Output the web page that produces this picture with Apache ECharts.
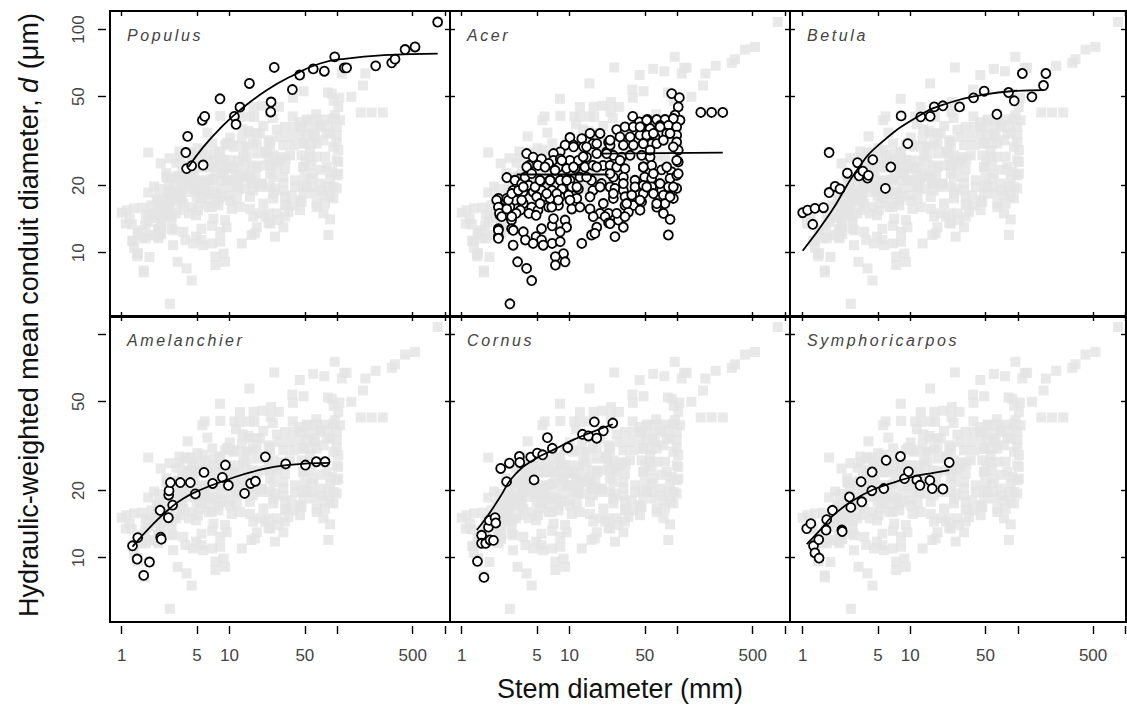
<!DOCTYPE html>
<html><head><meta charset="utf-8">
<script src="https://cdn.jsdelivr.net/npm/echarts@6/dist/echarts.min.js"></script>
<style>
html,body{margin:0;padding:0;background:#fff}
#c{width:1127px;height:706px}
#c text[style*="italic"]{letter-spacing:2.6px}
</style>
</head><body><div id="c"></div><script>
// ---- tick marks / labels ----
const xTicks = [1, 5, 10, 50, 100, 500, 1000];
const xTickLabels = [1, 5, 10, 50, 500];
const yTicks = [10, 20, 50, 100];
const yTickLabelsTop = [10, 20, 50, 100];
const yTickLabelsBottom = [10, 20, 50];
const speciesNames = ['Populus', 'Acer', 'Betula', 'Amelanchier', 'Cornus', 'Symphoricarpos'];

// ---- data: [stem diameter (mm), conduit diameter (um)] ----
const populusPts = [[3.93,28.1],[4.09,33.2],[4.0,23.8],[4.46,24.5],[5.7,24.7],[5.6,39.2],[5.89,40.8],[8.16,48.9],[11.1,40.8],[11.5,37.6],[12.5,44.9],[15.3,57.3],[24.3,47.3],[24.1,42.7],[26.0,67.6],[38.3,53.8],[44.8,62.5],[59.8,66.6],[75.8,65.0],[94.6,75.4],[116,67.3],[122,67.3],[227,68.7],[320,70.9],[343,73.6],[425,81.3],[526,83.5],[853,108]];
const populusFit = [[4.15,24.2],[5.73,29.8],[8.17,36.0],[12.5,43.5],[22.1,53.4],[39.1,62.4],[69.2,70.4],[122,74.1],[267,76.7],[853,78.0]];

const acerPts = [[10.1,32.8],[13.0,32.4],[15.5,34.2],[19.2,34.2],[23.0,31.3],[16.5,30.8],[13.5,29.8],[10.9,30.3],[9.1,30.3],[8.2,28.3],[7.1,27.8],
[4.0,27.8],[4.6,26.8],[5.5,26.3],[7.1,25.9],[8.2,26.3],[10.1,25.9],[12.1,25.9],[14.4,26.8],[17.9,27.8],[22.1,28.3],
[4.2,24.6],[5.1,24.6],[6.4,25.1],[7.9,24.2],[9.4,23.8],[11.3,23.8],[13.9,24.2],[16.5,24.6],[20.5,24.6],[25.6,25.1],
[2.62,21.7],[3.12,21.1],[3.6,20.4],[4.2,20.0],[5.33,20.8],[6.6,21.1],[8.2,21.1],[10.1,21.1],[12.5,21.8],[16.0,21.1],[19.8,20.4],[23.8,19.7],
[3.0,19.0],[3.7,18.7],[4.6,18.7],[5.5,19.0],[6.9,19.0],[8.5,19.3],[10.5,19.7],[12.1,19.3],[16.5,19.0],
[2.19,17.5],[2.62,17.5],[3.12,17.2],[3.73,16.6],[4.46,16.0],[5.5,17.5],[6.6,17.5],[8.2,17.8],[9.8,18.1],[11.7,17.5],
[2.27,16.0],[2.8,16.0],[3.5,15.5],[4.2,15.0],[5.1,15.5],[6.4,16.0],[7.9,16.3],[10.5,15.7],
[2.27,14.7],[2.7,14.7],[3.2,15.0],[4.9,14.7],[15.5,15.7],[19.2,15.0],[23.0,15.0],
[2.19,12.8],[2.19,11.8],[2.9,14.0],[2.9,12.8],[3.73,12.4],[3.9,11.4],[4.9,11.8],[5.5,12.8],[6.9,13.2],[7.1,14.2],[9.1,14.0],[9.4,13.0],[8.2,12.4],[5.5,11.4],[6.9,11.0],[8.2,11.2],[13.0,11.0],[16.0,12.0],[17.9,13.0],[21.4,14.5],[23.0,13.6],[17.2,12.2],
[3.0,10.8],[4.6,11.0],[5.7,10.8],[8.8,9.9],[9.1,9.1],[7.4,9.6],[7.4,8.8],[3.3,9.1],[4.0,8.5],[4.46,7.5],[2.8,5.9],
[88.7,51.6],[104.5,49.5],[102,45.0],[95.2,41.3],[106,39.2],[38.6,40.8],[44.5,38.5],[52.8,39.5],[64.4,39.5],[76.9,39.5],[91.9,39.9],
[27.4,35.6],[32.7,36.6],[39.1,36.6],[46.7,36.6],[55.9,36.0],[69.2,37.2],[82.6,37.2],[98.7,36.6],
[29.4,33.0],[36.5,33.0],[45.1,33.6],[52.0,33.6],[62.1,33.0],[79.8,34.2],[98.7,33.6],
[23.8,30.3],[31.6,30.3],[39.1,30.3],[48.4,30.8],[57.8,30.8],[98.7,31.3],[102,28.8],
[25.5,27.3],[30.5,26.8],[36.5,27.3],[46.7,27.3],[55.9,26.8],
[23.8,24.6],[27.4,24.2],[32.7,23.8],[48.4,24.2],[57.8,24.6],[71.6,23.5],[88.7,23.0],[102,25.5],
[25.5,21.8],[31.6,21.8],[40.5,21.1],[49.8,21.8],[57.8,21.5],[85.7,21.5],[98.7,22.2],
[26.4,19.4],[31.6,19.0],[40.5,19.7],[48.4,20.0],[57.8,19.7],[71.6,19.0],[82.6,19.7],[98.7,19.4],
[25.5,17.5],[32.7,17.8],[37.8,18.1],[48.4,18.4],[60.0,18.4],[74.3,18.1],[91.9,17.5],
[32.7,16.3],[39.1,16.3],[46.7,16.9],[64.4,16.0],[76.9,16.6],[45.1,15.5],[35.2,15.2],
[23.8,13.5],[28.4,14.0],[32.7,14.5],[31.6,13.0],[26.4,11.8],[85.7,14.1],[82.6,12.0],
[165,42.5],[208,42.5],[264,42.5],
[2.11,17.2],[2.19,16.0],[2.24,15.0],[2.19,12.6],[2.19,11.6],[2.35,14.5],[2.62,15.7],[2.71,17.2],[2.91,18.4],[2.91,14.5],[3.01,12.6],[3.36,19.0],[3.60,17.2],[3.73,19.7],[3.87,21.8],[4.01,24.2],[4.46,22.6],[4.79,19.7],[4.96,17.8],[5.33,16.6],[5.33,21.1],[5.93,24.2],[6.14,18.4],[6.6,21.1],[6.84,16.0],[7.34,23.4],[7.61,18.4],[7.88,17.2],
[8.47,25.9],[9.42,21.1],[10.1,17.2],[10.9,24.2],[11.7,19.7],[12.5,16.0],[13.4,26.9],[14.4,21.8],[15.5,17.8],[16.6,14.5],[17.9,24.2],[19.2,19.7],[20.6,16.6],[22.1,27.8],[23.8,22.6],[25.5,18.4],[27.4,15.0],[29.4,25.9],[31.6,20.4],[33.9,16.6],[10.9,29.8],[14.4,29.8],[17.9,30.8],[23.8,31.9],
[45.1,36.6],[52.0,39.2],[60.0,34.2],[69.2,36.6],[48.4,30.8],[55.9,28.8],[64.4,30.8],[74.3,31.9],[85.6,34.2],[91.9,29.8],[98.7,25.9],[102,22.6],[91.9,19.7],[85.6,17.8],[48.4,24.2],[60.0,22.6],[69.2,20.4],[79.8,24.2],[52.0,19.7],[45.1,17.2],[64.4,16.6],[74.3,15.0]];
const acerFitA = [[3.24,22.4],[23,22.4]];
const acerFitB = [[19.2,27.8],[264,28.1]];

const betulaPts = [[1.0,15.1],[1.11,15.5],[1.30,15.8],[1.56,15.9],[1.24,13.4],[1.76,28.1],[1.76,18.6],[2.0,19.8],[2.22,19.3],[2.60,22.7],[3.23,25.3],[3.34,22.1],[3.62,23.2],[4.0,21.6],[4.08,22.2],[4.48,26.1],[5.87,19.4],[6.59,24.2],[8.22,41.0],[9.48,30.8],[12.5,40.6],[15.3,40.8],[16.7,45.0],[20.1,45.5],[28.7,45.0],[38.7,49.4],[48.6,52.9],[63.8,41.7],[81.9,52.2],[92.5,47.9],[110,63.5],[135,49.9],[173,56.1],[182,63.5]];
const betulaFit = [[1.0,10.2],[1.8,15.0],[3.18,23.4],[5.24,30.8],[12.3,41.3],[21.8,46.6],[44.5,50.7],[91,53.0],[173,53.5]];

const amelanchierPts = [[1.26,11.3],[1.41,12.3],[1.39,9.86],[1.81,9.56],[1.6,8.33],[2.27,16.3],[2.30,12.35],[2.33,12.1],[2.71,15.1],[2.73,19.1],[2.75,19.95],[2.83,21.7],[2.97,17.2],[3.50,21.7],[4.33,21.7],[4.82,19.3],[5.8,24.1],[6.98,21.5],[8.59,22.9],[9.16,26.0],[9.76,21.1],[13.8,19.4],[15.7,21.5],[17.4,22.0],[21.5,28.3],[33.2,26.3],[50.6,26.0],[63.9,26.9],[77,26.9]];
const amelanchierFit = [[1.26,11.2],[1.97,14.2],[2.71,16.4],[3.73,18.4],[5.33,20.1],[9.42,22.3],[16.6,24.3],[33.9,26.0],[85.6,26.6]];

const cornusPts = [[1.40,9.63],[1.61,8.16],[1.53,12.6],[1.53,11.6],[1.67,11.6],[1.83,12.0],[1.97,11.95],[1.77,13.7],[1.80,14.7],[2.04,15.1],[2.07,14.3],[2.30,25.1],[2.77,26.5],[2.61,21.9],[3.43,28.4],[3.46,26.7],[4.37,28.2],[4.69,22.3],[5.03,29.4],[5.64,28.9],[6.24,34.5],[6.93,30.9],[9.62,31.1],[13.2,35.7],[15.0,35.1],[17.0,40.6],[17.9,34.3],[20.6,37.0],[25.2,40.1]];
const cornusFit = [[1.38,13.3],[1.71,15.2],[2.27,18.7],[3.01,23.1],[4.62,27.4],[7.08,30.4],[10.8,33.7],[16.6,36.7],[25.2,39.6]];

const symphPts = [[1.09,13.5],[1.19,14.2],[1.26,11.3],[1.30,10.5],[1.42,9.96],[1.41,12.05],[1.65,13.3],[1.67,14.8],[1.89,16.3],[2.31,13.3],[2.33,13.1],[2.72,18.7],[2.80,16.8],[3.49,21.9],[3.54,17.8],[4.42,24.2],[4.39,19.95],[5.67,20.4],[5.96,27.3],[8.10,28.4],[8.83,22.6],[9.61,24.3],[11.5,22.3],[12.3,21.1],[15.2,22.2],[16.0,20.4],[20.1,20.3],[23.0,26.7]];
const symphFit = [[1.09,11.5],[1.45,13.3],[1.93,15.5],[2.96,18.1],[4.54,20.2],[6.97,21.7],[10.7,23.1],[16.4,24.0],[23.1,24.7]];

const panelPts = [populusPts, acerPts, betulaPts, amelanchierPts, cornusPts, symphPts];
const panelFits = [[populusFit], [acerFitA, acerFitB], [betulaFit], [amelanchierFit], [cornusFit], [symphFit]];
// pooled data of all species (grey background in every panel)
const pooledPts = [].concat(populusPts, acerPts, betulaPts, amelanchierPts, cornusPts, symphPts);

// ---- layout ----
const colLeft = [110, 450, 790], colWidth = [340, 340, 336];
const rowTop = [11, 316], rowHeight = 306;
const xRange = [[0.779, 1110], [0.779, 1110], [0.762, 1011]];
const yRange = [5.15, 121];
const FONT = 'Liberation Sans, Arial, Helvetica, sans-serif';

function buildOption(useLog) {
  const T = v => useLog ? v : Math.log10(v);
  const P = arr => useLog ? arr : arr.map(p => [Math.log10(p[0]), Math.log10(p[1])]);
  const type = useLog ? 'log' : 'value';
  const fmt = v => String(Math.round(useLog ? v : Math.pow(10, v)));
  const grids = [], xAxes = [], yAxes = [], series = [], titles = [];
  const tickStyle = {color: '#000', width: 1.4};
  for (let i = 0; i < 6; i++) {
    const row = Math.floor(i / 3), col = i % 3;
    grids.push({left: colLeft[col], top: rowTop[row], width: colWidth[col], height: rowHeight,
      show: true, borderColor: '#000', borderWidth: 2, backgroundColor: 'rgba(0,0,0,0)',
      containLabel: false, outerBoundsMode: 'none'});
    const xb = {min: T(xRange[col][0]), max: T(xRange[col][1])};
    const yb = {min: T(yRange[0]), max: T(yRange[1])};
    const bottomOuter = row === 1, leftOuter = col === 0;
    xAxes.push({type, gridIndex: i, position: 'bottom', ...xb, offset: bottomOuter ? 4 : 0,
      axisLine: {show: false}, splitLine: {show: false}, minorTick: {show: false},
      axisTick: {show: true, inside: !bottomOuter, length: bottomOuter ? 8 : 5, customValues: xTicks.map(T), lineStyle: tickStyle},
      axisLabel: {show: bottomOuter, customValues: xTickLabels.map(T), formatter: fmt, margin: 21,
        fontSize: 17, color: '#444', fontFamily: FONT, hideOverlap: false}});
    xAxes.push({type, gridIndex: i, position: 'top', ...xb,
      axisLine: {show: false}, splitLine: {show: false},
      axisTick: {show: true, inside: true, length: 5, customValues: xTicks.map(T), lineStyle: tickStyle},
      axisLabel: {show: false}});
    yAxes.push({type, gridIndex: i, position: 'left', ...yb, offset: leftOuter ? 4 : 0,
      axisLine: {show: false}, splitLine: {show: false}, minorTick: {show: false},
      axisTick: {show: true, inside: !leftOuter, length: leftOuter ? 8 : 5, customValues: yTicks.map(T), lineStyle: tickStyle},
      axisLabel: {show: leftOuter, rotate: 90, customValues: (row === 0 ? yTickLabelsTop : yTickLabelsBottom).map(T),
        formatter: fmt, margin: 19, fontSize: 17, color: '#444', fontFamily: FONT, hideOverlap: false}});
    yAxes.push({type, gridIndex: i, position: 'right', ...yb,
      axisLine: {show: false}, splitLine: {show: false},
      axisTick: {show: true, inside: true, length: 5, customValues: yTicks.map(T), lineStyle: tickStyle},
      axisLabel: {show: false}});
    const xi = 2 * i, yi = 2 * i;
    series.push({type: 'scatter', xAxisIndex: xi, yAxisIndex: yi, data: P(pooledPts), symbol: 'rect', symbolSize: 10,
      itemStyle: {color: '#e4e4e4'}, silent: true, z: 1, animation: false});
    series.push({type: 'scatter', xAxisIndex: xi, yAxisIndex: yi, data: P(panelPts[i]), symbol: 'circle', symbolSize: 9,
      itemStyle: {color: '#fff', borderColor: '#000', borderWidth: 1.8, opacity: 1}, z: 4, animation: false});
    panelFits[i].forEach(f => series.push({type: 'line', xAxisIndex: xi, yAxisIndex: yi, data: P(f), smooth: f.length > 2,
      showSymbol: false, symbol: 'none', lineStyle: {color: '#000', width: 1.8}, z: 5, animation: false}));
    titles.push({text: speciesNames[i], left: colLeft[col] + 17, top: rowTop[row] + 16, padding: 0,
      textStyle: {fontSize: 16, fontStyle: 'italic', fontWeight: 'normal', color: '#444', fontFamily: FONT}});
  }
  return {
    animation: false, backgroundColor: '#fff',
    title: titles, grid: grids, xAxis: xAxes, yAxis: yAxes, series,
    graphic: [
      {type: 'text', x: 620, y: 689, silent: true,
       style: {text: 'Stem diameter (mm)', fontSize: 27, fontFamily: FONT, fill: '#111',
               align: 'center', verticalAlign: 'middle', textAlign: 'center', textVerticalAlign: 'middle'}},
      {type: 'text', x: 29, y: 315, rotation: Math.PI / 2, silent: true,
       style: {text: '{n|Hydraulic-weighted mean conduit diameter, }{i|d}{n| (μm)}',
               rich: {n: {fontSize: 27, fontFamily: FONT, fill: '#111'},
                      i: {fontSize: 27, fontFamily: FONT, fontStyle: 'italic', fill: '#111'}},
               align: 'center', verticalAlign: 'middle', textAlign: 'center', textVerticalAlign: 'middle'}}
    ]
  };
}

const chart = echarts.init(document.getElementById('c'), null, {renderer: 'svg'});
chart.setOption(buildOption(true));
let ok = false;
try {
  const ax = chart.getModel().getComponent('xAxis', 0).axis;
  const tc = ax.getTicksCoords();
  const c1 = ax.dataToCoord(1), c10 = ax.dataToCoord(10);
  ok = tc.length === 7 && Math.abs((tc[2].coord - tc[0].coord) - (c10 - c1)) < 1;
} catch (e) { ok = false; }
if (!ok) chart.setOption(buildOption(false), true);
</script></body></html>
